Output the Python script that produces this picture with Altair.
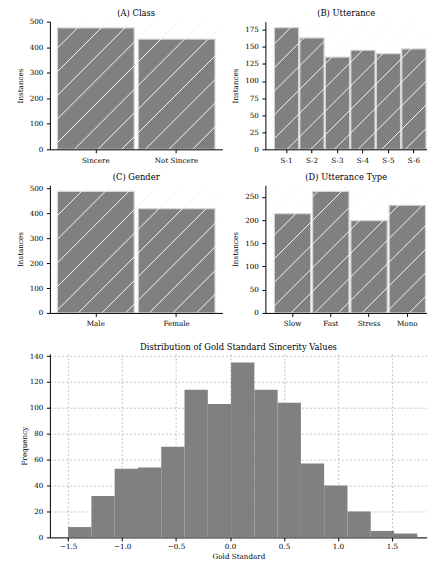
import altair as alt
import pandas as pd

# ---------------- data ----------------
class_labels = ["Sincere", "Not Sincere"]
class_counts = [476, 432]

utt_labels = ["S-1", "S-2", "S-3", "S-4", "S-5", "S-6"]
utt_counts = [178, 163, 135, 145, 140, 147]

gender_labels = ["Male", "Female"]
gender_counts = [489, 419]

type_labels = ["Slow", "Fast", "Stress", "Mono"]
type_counts = [214, 262, 199, 232]

hist_edges = [-1.5, -1.2843, -1.0687, -0.853, -0.6373, -0.4217, -0.206, 0.0097,
              0.2253, 0.441, 0.6567, 0.8723, 1.088, 1.3037, 1.5193, 1.735]
hist_counts = [8, 32, 53, 54, 70, 114, 103, 135, 114, 104, 57, 40, 20, 5, 3]

panel_titles = ["(A) Class", "(B) Utterance", "(C) Gender", "(D) Utterance Type"]
hist_title = "Distribution of Gold Standard Sincerity Values"

# ---------------- style ----------------
FONT = "DejaVu Serif"
GRAY = "#808080"
HATCH_SP = 23.7
HATCH_PHASE = 105.0
PANEL_H = 128
TITLE_FS = 8.4
LABEL_FS = 7.2


def title_mark(text, width, dy):
    return alt.Chart(pd.DataFrame({"t": [text]})).mark_text(
        baseline="alphabetic", align="center", fontSize=TITLE_FS, font=FONT, color="black"
    ).encode(text="t:N", x=alt.value(width / 2), y=alt.value(dy))


def bar_panel(labels, counts, title, ymax, yticks, width, x0, y0, pad_outer, align):
    df = pd.DataFrame({"cat": labels, "n": counts})
    bars = alt.Chart(df).mark_bar(color=GRAY, stroke="#d6d6d6", strokeWidth=1.2).encode(
        x=alt.X("cat:N", sort=labels, title=None,
                scale=alt.Scale(paddingInner=0.05, paddingOuter=pad_outer, align=align),
                axis=alt.Axis(labelAngle=0, zindex=1)),
        y=alt.Y("n:Q", scale=alt.Scale(domain=[0, ymax], nice=False),
                axis=alt.Axis(values=yticks, title="Instances", zindex=1,
                              titleX=-29.5, titleY=PANEL_H / 2, titleBaseline="middle",
                              titleAlign="center", titleAngle=270)),
    )
    n = int((width + PANEL_H) / HATCH_SP) + 3
    off = (HATCH_PHASE - x0 - y0) % HATCH_SP
    hatch = alt.Chart(alt.sequence(0, n, as_="k")).transform_calculate(
        xa=f"datum.k*{HATCH_SP}+{off}",
        xb=f"datum.k*{HATCH_SP}+{off}-{PANEL_H}",
    ).mark_rule(clip=True, color="#f4f4f4", strokeWidth=1).encode(
        x=alt.X("xa:Q", scale=None, axis=None),
        x2="xb:Q",
        y=alt.value(0),
        y2=alt.value(PANEL_H),
    )
    ttl = title_mark(title, width, -5.5)
    return alt.layer(bars, hatch, ttl).resolve_scale(x="independent", y="independent").properties(
        width=width, height=PANEL_H,
    )


A = bar_panel(class_labels, class_counts, panel_titles[0], 500.5, [0, 100, 200, 300, 400, 500],
              173, 49, 22, 0.093, 0.5)
B = bar_panel(utt_labels, utt_counts, panel_titles[1], 186.9, [0, 25, 50, 75, 100, 125, 150, 175],
              162, 265, 22, 0.196, 0.9)
C = bar_panel(gender_labels, gender_counts, panel_titles[2], 513.45, [0, 100, 200, 300, 400, 500],
              173, 49, 184, 0.093, 0.5)
D = bar_panel(type_labels, type_counts, panel_titles[3], 275.1, [0, 50, 100, 150, 200, 250],
              162, 265, 184, 0.137, 0.857)

hdf = pd.DataFrame({"b0": hist_edges[:-1], "b1": hist_edges[1:], "n": hist_counts})
HIST_H = 184
HIST_W = 378
hist_bars = alt.Chart(hdf).mark_rect(color=GRAY).encode(
    x=alt.X("b0:Q", scale=alt.Scale(domain=[-1.669, 1.825], nice=False, zero=False),
            axis=alt.Axis(values=[-1.5, -1.0, -0.5, 0.0, 0.5, 1.0, 1.5], format=".1f",
                          title="Gold Standard", grid=True, gridDash=[2, 2],
                          gridColor="#b4b4b4", gridWidth=0.8, labelPadding=2,
                          titleY=19.5, titleBaseline="middle")),
    x2="b1:Q",
    y=alt.Y("n:Q", scale=alt.Scale(domain=[0, 141.75], nice=False),
            axis=alt.Axis(values=[0, 20, 40, 60, 80, 100, 120, 140], title="Frequency",
                          grid=True, gridDash=[2, 2], gridColor="#b4b4b4", gridWidth=0.8,
                          titleX=-25.5, titleY=HIST_H / 2, titleBaseline="middle",
                          titleAlign="center", titleAngle=270)),
    y2=alt.datum(0),
)
hist = alt.layer(hist_bars, title_mark(hist_title, HIST_W, -3.5)).properties(
    width=HIST_W, height=HIST_H,
)

row1 = alt.hconcat(A, B, spacing=43, bounds="flush")
row2 = alt.hconcat(C, D, spacing=43, bounds="flush")
top = alt.vconcat(row1, row2, spacing=8)

chart = alt.vconcat(top, hist, spacing=15).properties(
    padding={"left": 8, "top": 0, "right": 0, "bottom": 0}
).configure(font=FONT).configure_axis(
    domainColor="black", tickColor="black", labelColor="black", titleColor="black",
    labelFont=FONT, titleFont=FONT, labelFontSize=LABEL_FS, titleFontSize=LABEL_FS,
    titleFontWeight="normal", tickSize=3.5, labelPadding=3.5, domainWidth=1, tickWidth=1,
    grid=False,
).configure_view(stroke=None)

chart.save("out.html", embed_options={"renderer": "svg", "actions": False})
